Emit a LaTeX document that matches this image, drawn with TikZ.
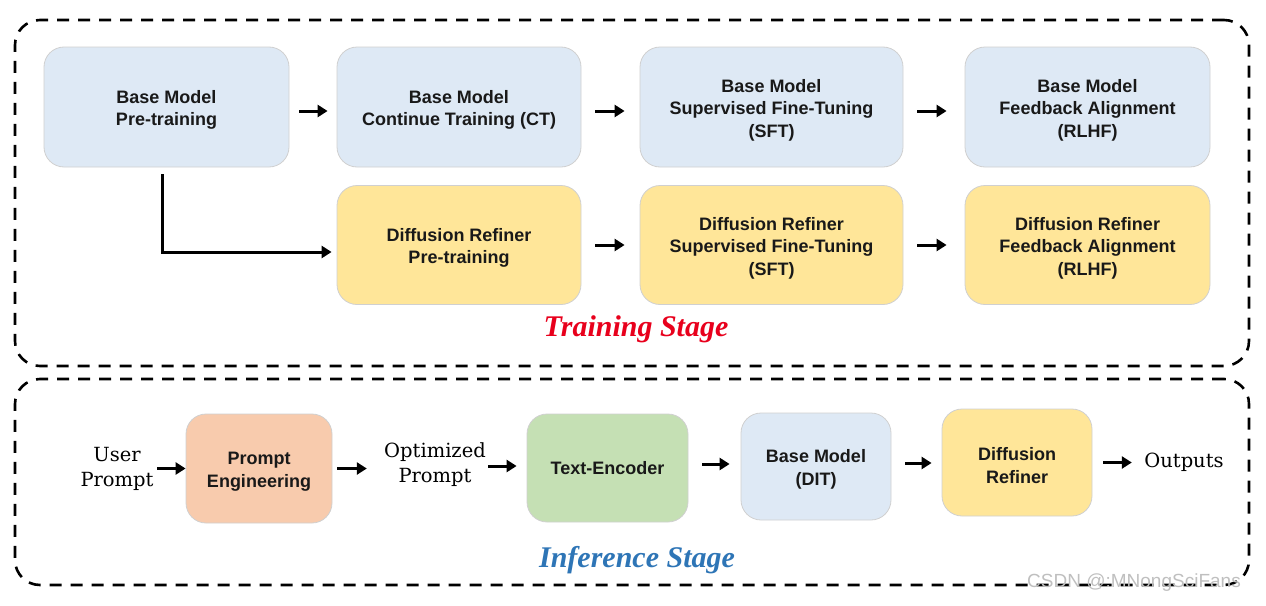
\documentclass[tikz,border=0pt]{standalone}
\usepackage{fontspec}
\setmainfont{Liberation Sans}
\newfontfamily\serifA{DejaVu Serif}
\newfontfamily\timesf{Liberation Serif}
\usetikzlibrary{arrows.meta,calc}
\newcommand{\topstrut}{\rule{0pt}{19pt}}
\definecolor{bluebox}{HTML}{DEE9F5}
\definecolor{yellowbox}{HTML}{FFE699}
\definecolor{greenbox}{HTML}{C5E0B4}
\definecolor{peachbox}{HTML}{F8CBAD}
\definecolor{boxline}{HTML}{D0D0D0}
\definecolor{trainred}{HTML}{E8001C}
\definecolor{infblue}{HTML}{2E75B6}
\tikzset{
  box/.style={draw=boxline, line width=0.8pt, rounded corners=20pt, align=center,
    inner sep=0pt, font=\fontsize{18}{22.5}\selectfont\bfseries, text=black!90},
  bluen/.style={box, fill=bluebox},
  yellown/.style={box, fill=yellowbox},
  greenn/.style={box, fill=greenbox},
  peachn/.style={box, fill=peachbox},
  plain/.style={inner sep=0pt, align=center, font=\serifA\fontsize{19.5}{25}\selectfont},
  arr/.style={line width=3pt, -{Triangle[length=10pt,width=12pt]}},
  dashbox/.style={draw=black, line width=2.6pt, dash pattern=on 12pt off 9pt, rounded corners=25pt, inner sep=0pt}
}
\begin{document}
\begin{tikzpicture}[x=1pt,y=-1pt]
\useasboundingbox (0,0) rectangle (1266,605);
% containers
\node[dashbox, minimum width=1234pt, minimum height=346pt] (train) at (632,193) {};
\node[dashbox, minimum width=1234pt, minimum height=206pt] (infer) at (632,482) {};
% training row 1
\node[bluen, minimum width=245pt, minimum height=120pt] (b1) at (166.5,107) {\topstrut Base Model\\Pre-training};
\node[bluen, minimum width=244pt, minimum height=120pt] (b2) at (459,107) {\topstrut Base Model\\Continue Training (CT)};
\node[bluen, minimum width=263pt, minimum height=120pt] (b3) at (771.5,107) {\topstrut Base Model\\Supervised Fine-Tuning\\(SFT)};
\node[bluen, minimum width=245pt, minimum height=120pt] (b4) at (1087.5,107) {\topstrut Base Model\\Feedback Alignment\\(RLHF)};
% training row 2
\node[yellown, minimum width=244pt, minimum height=119pt] (y1) at (459,245) {\topstrut Diffusion Refiner\\Pre-training};
\node[yellown, minimum width=263pt, minimum height=119pt] (y2) at (771.5,245) {\topstrut Diffusion Refiner\\Supervised Fine-Tuning\\(SFT)};
\node[yellown, minimum width=245pt, minimum height=119pt] (y3) at (1087.5,245) {\topstrut Diffusion Refiner\\Feedback Alignment\\(RLHF)};
% training arrows
\draw[arr, shorten <=10pt, shorten >=9pt] ([yshift=-4pt]b1.east) -- ([yshift=-4pt]b1.east -| b2.west);
\draw[arr, shorten <=14pt, shorten >=15pt] ([yshift=-4pt]b2.east) -- ([yshift=-4pt]b2.east -| b3.west);
\draw[arr, shorten <=14pt, shorten >=18pt] ([yshift=-4pt]b3.east) -- ([yshift=-4pt]b3.east -| b4.west);
\draw[arr, shorten <=14pt, shorten >=15pt] (y1.east) -- (y1.east -| y2.west);
\draw[arr, shorten <=14pt, shorten >=18pt] (y2.east) -- (y2.east -| y3.west);
\draw[arr, shorten >=5pt] ([xshift=-4.5pt,yshift=-7pt]b1.south) |- ([yshift=-7pt]y1.west);
\node[font=\timesf\fontsize{30}{32}\selectfont\bfseries\itshape, text=trainred] (tlabel) at (636,329) {Training Stage};
% inference row
\node[plain, text width=76pt] (up) at (117,469) {User\\Prompt};
\node[peachn, minimum width=146pt, minimum height=109pt] (pe) at (259,468.5) {\topstrut Prompt\\Engineering};
\node[plain, text width=104pt] (op) at (435,465) {Optimized\\Prompt};
\node[greenn, minimum width=161pt, minimum height=108pt] (te) at (607.5,468) {Text-Encoder};
\node[bluen, minimum width=150pt, minimum height=107pt] (bm) at (816,466.5) {\topstrut Base Model\\(DIT)};
\node[yellown, minimum width=150pt, minimum height=107pt] (dr) at (1017,462.5) {\topstrut Diffusion\\Refiner};
\node[plain, text width=80pt] (out) at (1184,462) {Outputs};
\draw[arr, shorten <=2pt] (up.east |- pe.west) -- (pe.west);
\draw[arr, shorten <=5pt, shorten >=16pt] (pe.east) -- (pe.east -| op.west);
\draw[arr, shorten <=1pt, shorten >=10pt] ([yshift=-1pt]op.east) -- ([yshift=-1pt]op.east -| te.west);
\draw[arr, shorten <=14pt, shorten >=11pt] ([yshift=4pt]te.east) -- ([yshift=4pt]te.east -| bm.west);
\draw[arr, shorten <=14pt, shorten >=10pt] ([yshift=3.5pt]bm.east) -- ([yshift=3.5pt]bm.east -| dr.west);
\draw[arr, shorten <=11pt, shorten >=12pt] (dr.east) -- (dr.east -| out.west);
\node[font=\timesf\fontsize{30}{32}\selectfont\bfseries\itshape, text=infblue] (ilabel) at (637,560) {Inference Stage};
\node[font=\fontsize{19}{20}\selectfont, text=black!25, inner sep=0pt] (wm) at (1134,583) {CSDN @:MNongSciFans};
\end{tikzpicture}
\end{document}
